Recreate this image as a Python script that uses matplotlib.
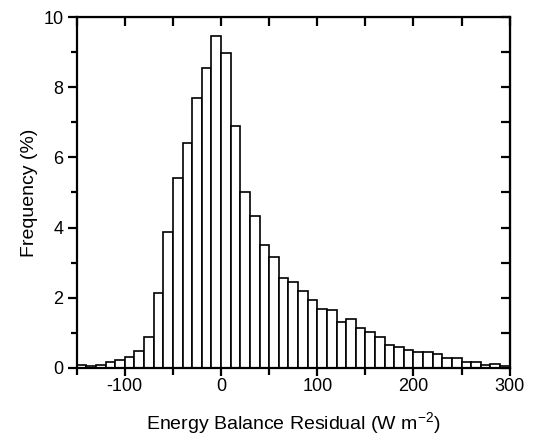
import matplotlib.pyplot as plt
import numpy as np
from matplotlib.ticker import MultipleLocator

plt.rcParams['font.family'] = ['Liberation Sans', 'DejaVu Sans']
plt.rcParams['axes.unicode_minus'] = False

# bin left edges (W m^-2) and frequency (%)
bin_width = 10
bin_edges = list(range(-150, 300, bin_width))
freq = [0.08, 0.05, 0.07, 0.15, 0.22, 0.30, 0.48, 0.88, 2.14, 3.88,
        5.41, 6.41, 7.69, 8.55, 9.48, 8.99, 6.89, 5.00, 4.34, 3.51,
        3.17, 2.56, 2.44, 2.18, 1.93, 1.67, 1.63, 1.31, 1.39, 1.12,
        1.01, 0.87, 0.64, 0.60, 0.50, 0.45, 0.45, 0.40, 0.27, 0.27,
        0.15, 0.15, 0.08, 0.11, 0.05]

fig = plt.figure(figsize=(5.36, 4.36), dpi=100)
ax = fig.add_axes([0.143, 0.157, 0.808, 0.803])

ax.bar(bin_edges, freq, width=bin_width, align='edge',
       color='white', edgecolor='black', linewidth=1.2)

ax.set_xlim(-150, 300)
ax.set_ylim(0, 10)
ax.xaxis.set_major_locator(MultipleLocator(100))
ax.xaxis.set_minor_locator(MultipleLocator(50))
ax.yaxis.set_major_locator(MultipleLocator(2))
ax.yaxis.set_minor_locator(MultipleLocator(1))

for s in ax.spines.values():
    s.set_linewidth(1.6)

ax.tick_params(which='both', direction='out', width=1.6, labelsize=13,
               top=False, right=False)
ax.tick_params(axis='x', which='major', length=5.5, pad=2)
ax.tick_params(axis='x', which='minor', length=5)
ax.tick_params(axis='y', which='major', length=6.5, pad=3)
ax.tick_params(axis='y', which='minor', length=4)

# mirrored inward ticks on top and right
top = ax.secondary_xaxis('top')
top.xaxis.set_major_locator(MultipleLocator(50))
top.tick_params(direction='in', length=6.5, width=1.6, labeltop=False)
right = ax.secondary_yaxis('right')
right.yaxis.set_major_locator(MultipleLocator(1))
right.tick_params(direction='in', length=6.5, width=1.6, labelright=False)

ax.set_xlabel(r'Energy Balance Residual (W m$^{\mathregular{-2}}$)',
              fontsize=14, labelpad=11)
ax.set_ylabel('Frequency (%)', fontsize=14, labelpad=4)

fig.savefig('out.png', dpi=100)
